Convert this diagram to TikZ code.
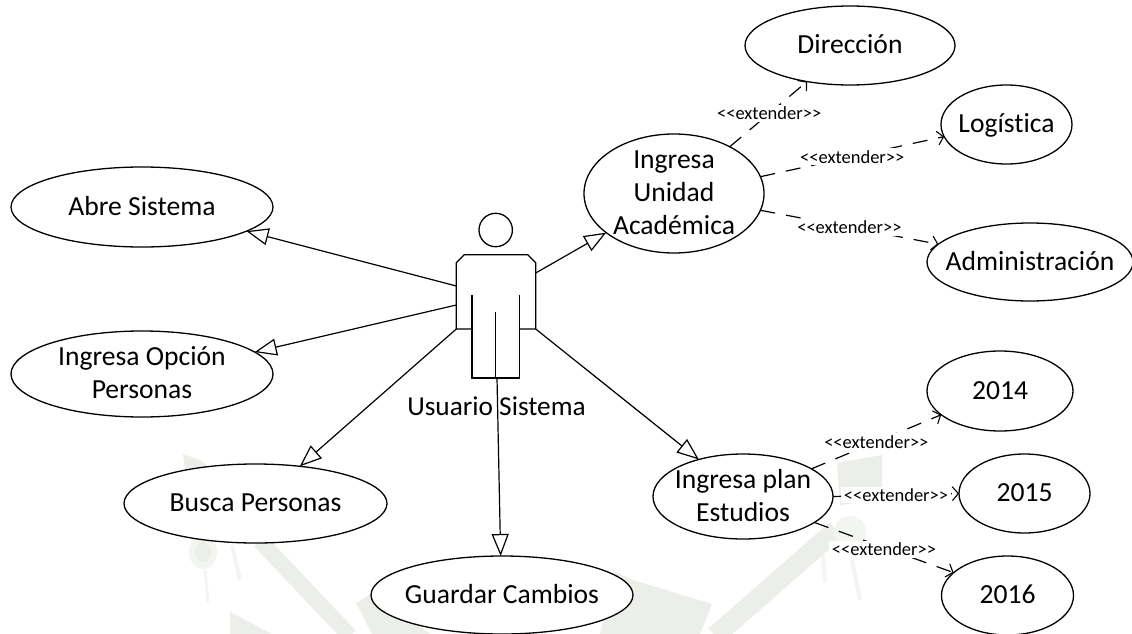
\documentclass[tikz,border=0pt]{standalone}
\usepackage{fontspec}
\setmainfont{Carlito}[Ligatures={NoCommon}]
\usetikzlibrary{shapes.geometric,arrows.meta}
\definecolor{wmark}{HTML}{ECEFE9}
\definecolor{wmarkb}{HTML}{F3F5F1}
\newcommand{\uctext}[1]{\makebox[0pt][c]{\raisebox{-0.56em}{\smash{\begin{tabular}[c]{@{}c@{}}#1\end{tabular}}}}}
\newcommand{\extword}{<\kern0pt<extender>\kern0pt>}
\tikzset{
  usecase/.style={draw=black,line width=1.3pt,fill=white,shape=ellipse,inner sep=0pt,outer sep=0pt,
    font=\fontsize{27.6}{33}\selectfont},
  assoc/.style={draw=black,line width=1.2pt,-{Triangle[length=22pt,width=17pt,fill=white,line width=1.2pt]}},
  ext/.style={draw=black,line width=1.2pt,dash pattern=on 15pt off 11pt,-{Straight Barb[length=6pt,width=14pt,line width=1.1pt]}},
  extlabel/.style={fill=white,inner xsep=3pt,inner ysep=2pt,font=\fontsize{18.5}{20}\selectfont},
  actorline/.style={draw=black,line width=1.3pt,line join=miter},
  wm/.style={fill=wmark,draw=none},
  wmline/.style={draw=wmark,line cap=butt}
}
\begin{document}
\begin{tikzpicture}[x=1pt,y=-1pt]
\useasboundingbox (0,0) rectangle (1132,634);
% watermark
\fill[wm] (183,454) -- (200,460) -- (216,472) -- (187,490) -- cycle;
\draw[wmline,line width=16pt] (260,541) -- (350,636);
\fill[wmarkb] (203,552) ellipse (14 and 17);
\fill[wm] (203,552) ellipse (8 and 10);
\draw[wmline,line width=3pt,draw=wmarkb] (205,570) -- (208,602);
\draw[wmline,line width=4pt,draw=wmarkb] (232,545) -- (240,580);
\fill[wm] (230,612) -- (272,634) -- (230,634) -- cycle;
\fill[wm] (356,603) -- (378,590) -- (430,634) -- (372,634) -- cycle;
\fill[wm] (615,572) -- (633,580) -- (712,604) -- (700,634) -- (600,634) -- cycle;
\draw[wmline,line width=20pt] (836,530) -- (715,636);
\fill[wm] (837,463) -- (882,455) -- (882,500) -- (840,505) -- cycle;
\fill[wmarkb] (850,532) circle (16);
\draw[wmline,line width=4pt,draw=wmarkb] (823,555) -- (825,582);
\draw[wmline,line width=4pt,draw=wmarkb] (852,560) -- (860,600);
% use cases
\node[usecase,minimum width=262pt,minimum height=80pt] (abre) at (142,207) {\uctext{Abre Sistema}};
\node[usecase,minimum width=262pt,minimum height=86pt] (opcion) at (142,374) {\uctext{Ingresa Opción\\Personas}};
\node[usecase,minimum width=263pt,minimum height=79pt] (busca) at (255.5,503.5) {\uctext{Busca Personas}};
\node[usecase,minimum width=262pt,minimum height=78pt] (guardar) at (502,595) {\uctext{Guardar Cambios}};
\node[usecase,minimum width=180pt,minimum height=119pt] (unidad) at (674,193.5) {\uctext{Ingresa\\Unidad\\Académica}};
\node[usecase,minimum width=180pt,minimum height=85pt] (plan) at (743,496.5) {\uctext{Ingresa plan\\Estudios}};
\node[usecase,minimum width=210pt,minimum height=79pt] (direccion) at (850,45.5) {\uctext{Dirección}};
\node[usecase,minimum width=131pt,minimum height=79pt] (logistica) at (1006.5,124.5) {\uctext{Logística}};
\node[usecase,minimum width=206pt,minimum height=78pt] (admin) at (1030,262) {\uctext{Administración}};
\node[usecase,minimum width=146pt,minimum height=80pt] (a2014) at (1000,391) {\uctext{2014}};
\node[usecase,minimum width=131pt,minimum height=79pt] (a2015) at (1024.5,493.5) {\uctext{2015}};
\node[usecase,minimum width=132pt,minimum height=79pt] (a2016) at (1007.5,595.5) {\uctext{2016}};
% actor
\node[draw=black,line width=1.3pt,circle,minimum size=33.4pt,inner sep=0pt] (head) at (495.7,230) {};
\draw[actorline] (472,329) -- (456.3,329) -- (456.3,262.7) -- (464.3,254.7) -- (527.7,254.7) -- (535.7,262.7) -- (535.7,329) -- (519.3,329);
\draw[actorline] (472,295) -- (472,378) -- (519.3,378) -- (519.3,295);
\draw[actorline] (495.7,312) -- (495.7,378);
\coordinate (aAbre) at (456.3,286);
\coordinate (aOpcion) at (456.3,305);
\coordinate (aBusca) at (456.3,329);
\coordinate (aFoot) at (497,378);
\coordinate (aPlan) at (535.7,329);
\coordinate (aUnidad) at (535.7,273);
\node[font=\fontsize{27.3}{30}\selectfont,inner sep=0pt] (actorname) at (496.5,406) {Usuario Sistema};
% associations
\draw[assoc] (aAbre) -- (abre.-13.9);
\draw[assoc] (aOpcion) -- (opcion.11.9);
\draw[assoc] (aBusca) -- (busca.40.8);
\draw[assoc] (aFoot) -- (guardar.92);
\draw[assoc] (aPlan) -- (plan.140.2);
\draw[assoc] (aUnidad) -- (unidad.210.2);
% extends
\draw[ext] (unidad.40.3) -- node[extlabel,pos=0.51] {\extword} (direccion.220.2);
\draw[ext] (unidad.11.6) -- node[extlabel,pos=0.5] {\extword} (logistica.191.3);
\draw[ext] (unidad.-11.2) -- node[extlabel,pos=0.5] {\extword} (admin.169.7);
\draw[ext] (plan.22.3) -- node[extlabel,pos=0.5] {\extword} (a2014.202.4);
\draw[ext] (plan.0) -- node[extlabel,pos=0.5] {\extword} (a2015.180);
\draw[ext] (plan.-20.4) -- node[extlabel,pos=0.5,yshift=-2pt] {\extword} (a2016.157.6);
\end{tikzpicture}
\end{document}
